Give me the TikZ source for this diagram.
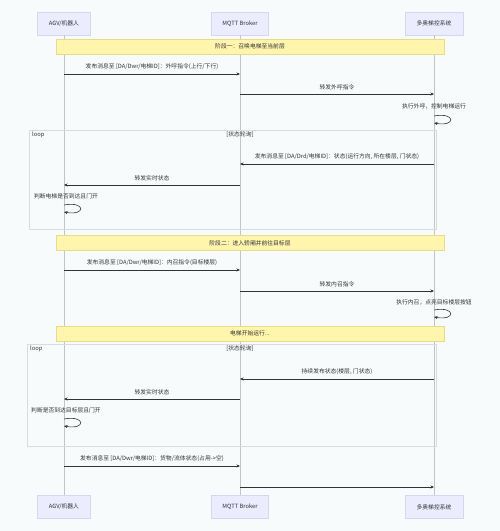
\documentclass[tikz,border=0pt]{standalone}
\usepackage{fontspec}
\setmainfont{Noto Sans CJK SC}
\usepackage{tikz}
\usetikzlibrary{arrows.meta}

\definecolor{bgfill}{HTML}{F8FBFC}
\definecolor{actorfill}{HTML}{ECECFF}
\definecolor{actorline}{HTML}{D6D6F2}
\definecolor{notefill}{HTML}{FFF5AD}
\definecolor{noteline}{HTML}{E8DC8A}
\definecolor{lifegray}{HTML}{C4C4C4}
\definecolor{msgdark}{HTML}{333333}
\definecolor{loopgray}{HTML}{D8DCDE}

\tikzset{
  actor/.style={draw=actorline, fill=actorfill, minimum width=55, minimum height=23, inner sep=0pt, font=\fontsize{5.8}{6}\selectfont, text=msgdark},
  lifeline/.style={draw=lifegray, line width=0.6pt},
  msgline/.style={draw=msgdark, line width=0.6pt, -{Stealth[length=3.5pt,width=3pt]}},
  msgtext/.style={font=\fontsize{5.8}{6}\selectfont, text=msgdark, inner sep=1pt},
  notebox/.style={draw=noteline, fill=notefill, minimum width=388, minimum height=15, inner sep=0pt, font=\fontsize{5.8}{6}\selectfont, text=msgdark},
  loopbox/.style={draw=loopgray, line width=0.6pt},
}

\begin{document}
\begin{tikzpicture}[x=1pt, y=-1pt]
	\useasboundingbox[fill=bgfill] (0,0) rectangle (500,531);
	% participants
	\node[actor, minimum width=53] (agvT) at (64,23.5) {AGV/机器人};
	\node[actor, minimum width=57] (brkT) at (240,23.5) {MQTT Broker};
	\node[actor, minimum width=58] (sysT) at (434,23.5) {多奥梯控系统};
	\node[actor, minimum width=53] (agvB) at (64,507) {AGV/机器人};
	\node[actor, minimum width=57] (brkB) at (240,507) {MQTT Broker};
	\node[actor, minimum width=58] (sysB) at (434,507) {多奥梯控系统};
	\draw[lifeline] (agvT) -- (agvB);
	\draw[lifeline] (brkT) -- (brkB);
	\draw[lifeline] (sysT) -- (sysB);

	% loop frames
	\draw[loopbox] (29,130) rectangle (436,229);
	\node[msgtext, anchor=north west] (loopA) at (31,131) {loop};
	\node[msgtext] (condA) at (240,135) {[状态轮询]};
	\draw[loopbox] (27,344) rectangle (436,446);
	\node[msgtext, anchor=north west] (loopB) at (29,345) {loop};
	\node[msgtext] (condB) at (240,349) {[状态轮询]};

	% notes
	\node[notebox] (note1) at (250,46.5) {阶段一：召唤电梯至当前层};
	\node[notebox] (note2) at (250,243) {阶段二：进入轿厢并前往目标层};
	\node[notebox] (note3) at (250,333.5) {电梯开始运行...};

	% message rows on the lifelines
	\foreach \n/\y in {1/74,2/94,3/116,4/164,5/185,6/205,7/270,8/291,9/310,10/379,11/399,12/419,13/466,14/487} {
		\coordinate (a\n) at (agvT |- 0,\y);
		\coordinate (b\n) at (brkT |- 0,\y);
		\coordinate (s\n) at (sysT |- 0,\y);
		\coordinate (a\n e) at (agvT |- 0,\y+7);
		\coordinate (s\n e) at (sysT |- 0,\y+7);
	}

	% phase one
	\draw[msgline] (a1) -- node[msgtext, above=3pt] {发布消息至 [DA/Dwr/电梯ID]：外呼指令(上行/下行)} (b1);
	\draw[msgline] (b2) -- node[msgtext, above=3pt] {转发外呼指令} (s2);
	\node[msgtext] (self1) at (434,106) {执行外呼，控制电梯运行};
	\draw[msgline] (s3) .. controls +(22,-4) and +(22,4) .. (s3e);
	\draw[msgline] (s4) -- node[msgtext, above=3pt] {发布消息至 [DA/Drd/电梯ID]：状态(运行方向, 所在楼层, 门状态)} (b4);
	\draw[msgline] (b5) -- node[msgtext, above=3pt] {转发实时状态} (a5);
	\node[msgtext] (self2) at (66,196) {判断电梯是否到达且门开};
	\draw[msgline] (a6) .. controls +(22,-4) and +(22,4) .. (a6e);

	% phase two
	\draw[msgline] (a7) -- node[msgtext, above=3pt] {发布消息至 [DA/Dwr/电梯ID]：内召指令(目标楼层)} (b7);
	\draw[msgline] (b8) -- node[msgtext, above=3pt] {转发内召指令} (s8);
	\node[msgtext] (self3) at (434,302) {执行内召，点亮目标楼层按钮};
	\draw[msgline] (s9) .. controls +(22,-4) and +(22,4) .. (s9e);
	\draw[msgline] (s10) -- node[msgtext, above=3pt] {持续发布状态(楼层, 门状态)} (b10);
	\draw[msgline] (b11) -- node[msgtext, above=3pt] {转发实时状态} (a11);
	\node[msgtext] (self4) at (66,410) {判断是否到达目标层且门开};
	\draw[msgline] (a12) .. controls +(22,-4) and +(22,4) .. (a12e);
	\draw[msgline] (a13) -- node[msgtext, above=3pt] {发布消息至 [DA/Dwr/电梯ID]：货物/流体状态(占用->空)} (b13);
	\draw[msgline] (b14) -- (s14);
\end{tikzpicture}
\end{document}
